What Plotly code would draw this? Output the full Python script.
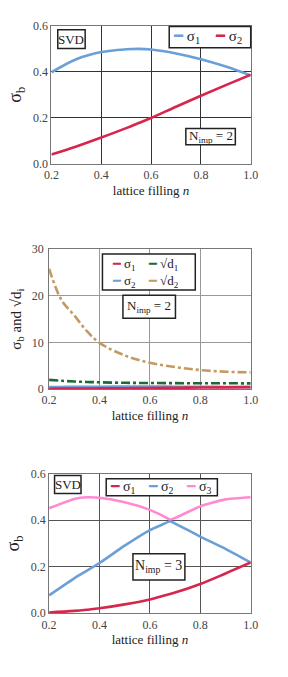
import plotly.graph_objects as go

# ---------------- data ----------------
n_fill = [0.2, 0.3, 0.4, 0.5, 0.55, 0.6, 0.7, 0.8, 0.9, 1.0]

# panel 1 & 2 (N_imp = 2)
p1_sigma1 = [0.398, 0.455, 0.486, 0.498, 0.500, 0.497, 0.480, 0.455, 0.423, 0.384]
p1_sigma2 = [0.040, 0.075, 0.114, 0.155, 0.177, 0.199, 0.248, 0.296, 0.342, 0.387]

n_fill2 = [0.2, 0.25, 0.3, 0.35, 0.4, 0.5, 0.6, 0.7, 0.8, 0.9, 1.0]
p2_sqrt_d1 = [1.95, 1.75, 1.6, 1.5, 1.42, 1.32, 1.27, 1.24, 1.22, 1.21, 1.2]
p2_sqrt_d2 = [25.8, 19.0, 15.8, 12.4, 9.9, 7.2, 5.6, 4.7, 4.05, 3.7, 3.55]
p2_sigma1 = [0.040, 0.058, 0.075, 0.094, 0.114, 0.155, 0.199, 0.248, 0.296, 0.342, 0.387]
p2_sigma2 = [0.398, 0.43, 0.455, 0.473, 0.486, 0.498, 0.497, 0.480, 0.455, 0.423, 0.384]

# panel 3 (N_imp = 3)
n_fill3 = [0.2, 0.3, 0.35, 0.4, 0.5, 0.6, 0.65, 0.68, 0.7, 0.8, 0.9, 1.0]
p3_sigma1 = [0.003, 0.010, 0.015, 0.021, 0.038, 0.059, 0.074, 0.083, 0.089, 0.126, 0.171, 0.218]
p3_sigma2 = [0.077, 0.150, 0.183, 0.216, 0.291, 0.358, 0.382, 0.396, 0.386, 0.330, 0.277, 0.218]
p3_sigma3 = [0.452, 0.492, 0.499, 0.497, 0.478, 0.445, 0.420, 0.403, 0.410, 0.460, 0.490, 0.499]

x_ticks = [0.2, 0.4, 0.6, 0.8, 1.0]
y_ticks_sigma = [0.0, 0.2, 0.4, 0.6]
y_ticks_d = [0, 10, 20, 30]

# ---------------- styles ----------------
BLUE = "#6a9fd8"
RED = "#d7264e"
PINK = "#ff8ad2"
GREEN = "#1b6b35"
TAN = "#c39a62"
SERIF = "Liberation Serif, DejaVu Serif, serif"
W, H = 288, 677


def py(pix):
    return 1 - pix / H


def px(pix):
    return pix / W


fig = go.Figure()

# panel 1
fig.add_trace(go.Scatter(x=n_fill, y=p1_sigma1, mode="lines", line=dict(color=BLUE, width=2.6, shape="spline"),
                         xaxis="x", yaxis="y", showlegend=False))
fig.add_trace(go.Scatter(x=n_fill, y=p1_sigma2, mode="lines", line=dict(color=RED, width=2.6, shape="spline"),
                         xaxis="x", yaxis="y", showlegend=False))
# panel 2
fig.add_trace(go.Scatter(x=n_fill2, y=p2_sigma2, mode="lines", line=dict(color=BLUE, width=2.6, shape="spline"),
                         xaxis="x2", yaxis="y2", showlegend=False))
fig.add_trace(go.Scatter(x=n_fill2, y=p2_sigma1, mode="lines", line=dict(color=RED, width=2.6, shape="spline"),
                         xaxis="x2", yaxis="y2", showlegend=False))
fig.add_trace(go.Scatter(x=n_fill2, y=p2_sqrt_d1, mode="lines",
                         line=dict(color=GREEN, width=2.6, dash="dashdot", shape="spline"),
                         xaxis="x2", yaxis="y2", showlegend=False))
fig.add_trace(go.Scatter(x=n_fill2, y=p2_sqrt_d2, mode="lines",
                         line=dict(color=TAN, width=2.6, dash="dashdot", shape="spline"),
                         xaxis="x2", yaxis="y2", showlegend=False))
# panel 3
fig.add_trace(go.Scatter(x=n_fill3, y=p3_sigma3, mode="lines", line=dict(color=PINK, width=2.6, shape="spline", smoothing=0.5),
                         xaxis="x3", yaxis="y3", showlegend=False))
fig.add_trace(go.Scatter(x=n_fill3, y=p3_sigma2, mode="lines", line=dict(color=BLUE, width=2.6, shape="spline", smoothing=0.5),
                         xaxis="x3", yaxis="y3", showlegend=False))
fig.add_trace(go.Scatter(x=n_fill3, y=p3_sigma1, mode="lines", line=dict(color=RED, width=2.6, shape="spline"),
                         xaxis="x3", yaxis="y3", showlegend=False))

tickfont = dict(family=SERIF, size=12, color="#444")
titlefont = dict(family=SERIF, size=13, color="#222")


def xaxis(dom, anchor, gridcolor):
    return dict(domain=dom, anchor=anchor, range=[0.2, 1.0], tickvals=x_ticks,
                ticktext=[f"{v:.1f}" for v in x_ticks], tickfont=tickfont,
                showgrid=True, gridcolor=gridcolor, gridwidth=1, zeroline=False,
                showline=True, linecolor="#777", linewidth=1, mirror=True, ticks="",
                title=dict(text="lattice filling <i>n</i>", font=titlefont, standoff=4))


def yaxis(dom, anchor, rng, ticks, fmt, gridcolor, title, tsize, standoff_lbl=0):
    return dict(domain=dom, anchor=anchor, range=rng, tickvals=ticks,
                ticktext=[fmt.format(v) for v in ticks], tickfont=tickfont,
                showgrid=True, gridcolor=gridcolor, gridwidth=1, zeroline=False,
                showline=True, linecolor="#777", linewidth=1, mirror=True, ticks="",
                ticklabelstandoff=standoff_lbl,
                title=dict(text=title, font=dict(family=SERIF, size=tsize, color="#222"), standoff=6))


fig.update_layout(
    width=W, height=H, margin=dict(l=0, r=0, t=0, b=0),
    paper_bgcolor="white", plot_bgcolor="white", showlegend=False,
    xaxis=xaxis([px(46), px(257)], "y", "#333"),
    yaxis=yaxis([py(160), py(19.3)], "x", [0, 0.6], y_ticks_sigma, "{:.1f}", "#333", "σ<sub>b</sub>", 18),
    xaxis2=xaxis([px(43.5), px(257)], "y2", "#999"),
    yaxis2=yaxis([py(390), py(247.3)], "x2", [0, 30], y_ticks_d, "{:d}", "#999",
                 "σ<sub>b</sub> and √d<sub>i</sub>", 15, 2),
    xaxis3=xaxis([px(43.5), px(257)], "y3", "#555"),
    yaxis3=yaxis([py(619), py(476.7)], "x3", [0, 0.6], y_ticks_sigma, "{:.1f}", "#555", "σ<sub>b</sub>", 18),
)


def box(x0, y0, x1, y1, width=1.5):
    fig.add_shape(type="rect", xref="paper", yref="paper", x0=px(x0), x1=px(x1), y0=py(y1), y1=py(y0),
                  line=dict(color="#222", width=width), fillcolor="white", layer="above")


def label(x, y, text, size=12, anchor="center"):
    fig.add_annotation(xref="paper", yref="paper", x=px(x), y=py(y), text=text, showarrow=False,
                       xanchor=anchor, yanchor="middle", font=dict(family=SERIF, size=size, color="#222"))


def sw(color):
    return f"<span style='color:{color}'><b>━</b></span>"


# panel 1 boxes
box(52.7, 23.3, 81.7, 42.3)
label(67.2, 33, "SVD", 13)
box(170.7, 20, 257, 41.7)
label(173, 31, sw(BLUE) + " σ<sub>1</sub>", 15, "left")
label(217, 31, sw(RED) + " σ<sub>2</sub>", 15, "left")
box(188.3, 124, 240.7, 140.7)
label(214.5, 132.5, "N<sub>imp</sub> = 2", 13)

# panel 2 boxes
box(100, 252.3, 198.3, 289)
label(108, 263, sw(RED) + " σ<sub>1</sub>", 13, "left")
label(108, 280, sw(BLUE) + " σ<sub>2</sub>", 13, "left")
label(146, 263, sw(GREEN) + " √d<sub>1</sub>", 13, "left")
label(146, 280, sw(TAN) + " √d<sub>2</sub>", 13, "left")
box(121.7, 294.3, 177.3, 317.7)
label(149.5, 306, "N<sub>imp</sub> = 2", 13)

# panel 3 boxes
box(49.3, 478.3, 77.3, 496.7)
label(63.3, 487.5, "SVD", 13)
box(104, 481.7, 221.7, 499)
label(106, 490.5, sw(RED) + " σ<sub>1</sub>", 14, "left")
label(146, 490.5, sw(BLUE) + " σ<sub>2</sub>", 14, "left")
label(186, 490.5, sw(PINK) + " σ<sub>3</sub>", 14, "left")
box(132.3, 558.3, 187.3, 585)
label(159.8, 571.5, "N<sub>imp</sub> = 3", 14)

fig.write_html("out.html", post_script="document.body.style.margin='0px';",
               config={"displayModeBar": False})
